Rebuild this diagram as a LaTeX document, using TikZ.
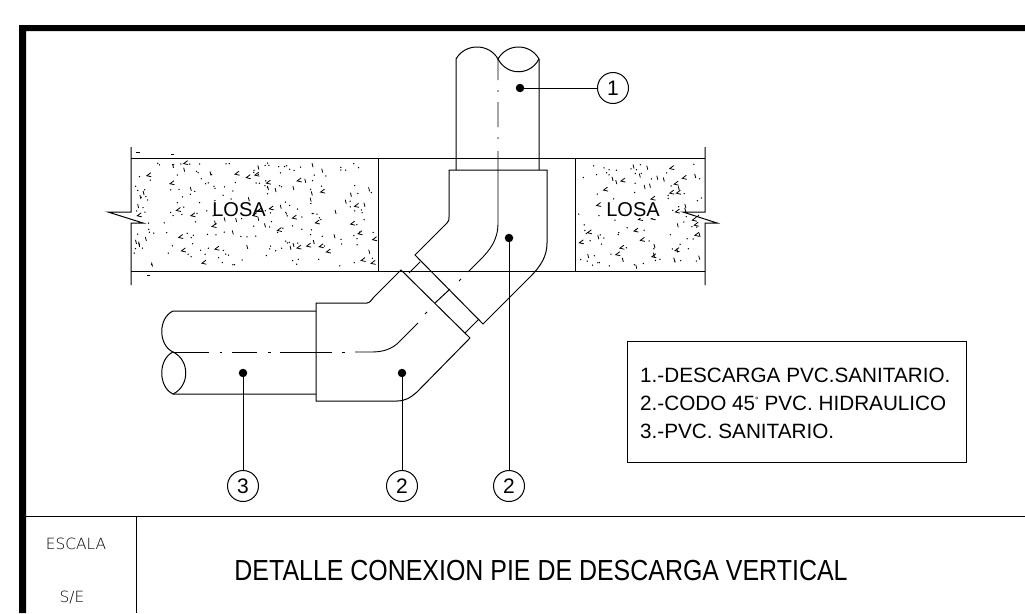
\documentclass[tikz,border=0pt]{standalone}
\usepackage{fontspec}
\setmainfont{Liberation Sans}
\newfontfamily\scalefont{DejaVu Sans ExtraLight}
\tikzset{
  cadline/.style={line width=1pt,line join=miter},
  axisline/.style={line width=0.9pt},
  callout/.style={circle,draw,line width=1pt,minimum size=31pt,inner sep=0pt,font=\fontsize{21}{23}\selectfont},
  leaddot/.style={circle,fill,minimum size=8.5pt,inner sep=0pt},
  loslabel/.style={font=\fontsize{20}{22}\selectfont},
  notelabel/.style={anchor=base west,inner sep=0pt,font=\fontsize{20.7}{23}\selectfont},
  scalelabel/.style={font=\scalefont\fontsize{15.4}{17}\selectfont},
  specks/.style={line width=0.8pt}
}
\newcommand{\speckfill}[3]{% x from, x to, seed
  \pgfmathsetseed{#3}
  \pgfmathsetmacro{\speckn}{int((#2-#1)*1.05)}
  \foreach \k in {1,...,\speckn} {
    \pgfmathsetmacro{\px}{#1+rnd*(#2-#1)}
    \pgfmathsetmacro{\py}{163+rnd*103}
    \pgfmathsetmacro{\pick}{rnd}
    \ifdim\pick pt<0.66pt
      \fill (\px,\py) circle (0.75);
    \else\ifdim\pick pt<0.84pt
      \draw[specks] (\px,\py) -- ++(1,4);
    \else
      \draw[specks] (\px,\py) ++(4,-3) -- ++(-4,3) -- ++(4.5,1);
    \fi\fi
  }
}
\begin{document}
\begin{tikzpicture}[x=1pt,y=-1pt]
  \useasboundingbox (0,0) rectangle (1025,613);
  % frame
  \fill (19,25) rectangle (1025,31) (19,25) rectangle (26,613);
  \draw[cadline] (26,516) -- (1025,516) (136,516) -- (136,613);
  \node[scalelabel] (scalehead) at (76,544) {ESCALA};
  \node[scalelabel] (scaleval) at (72,597) {S/E};
  \node[xscale=0.86,transform shape] (title) at (541,571) {\fontsize{29}{31}\selectfont DETALLE CONEXION PIE DE DESCARGA VERTICAL};
  % slab
  \draw[cadline] (131,158) -- (705,158) (131,271) -- (705,271)
    (378,158) -- (378,271) (575,158) -- (575,271);
  \draw[cadline] (131,147) -- (131,212) -- (108,212) -- (143,223) -- (131,223) -- (131,285);
  \draw[cadline] (705,147) -- (705,212) -- (683,212) -- (717,223) -- (705,223) -- (705,285);
  \speckfill{134}{375}{11}
  \speckfill{578}{702}{29}
  \draw[specks] (136,152) -- (140,152) (171,154) -- (174,154) (147,275) -- (150,275);
  \node[loslabel] (losaleft) at (239,210) {LOSA};
  \node[loslabel,fill=white,inner sep=1pt] (losaright) at (633,210) {LOSA};
  % upper pipe
  \draw[cadline] (456,170) -- (456,59) .. controls (465,43) and (489,43) .. (498,59)
    .. controls (507,43) and (530,43) .. (539,59) -- (539,170);
  \draw[cadline] (498,59) .. controls (507,76) and (530,76) .. (539,59);
  % upper elbow
  \draw[cadline] (449,170) -- (547,170) -- (547,243) .. controls (547,256) and (541,266) .. (530,277)
    -- (483,324) -- (415,255) -- (447,223) .. controls (449,221) and (449,220) .. (449,217) -- cycle;
  % nipple
  \draw[cadline] (409,273) -- (420,262) (465,333) -- (479,319) (435,303) -- (450,289);
  % lower elbow
  \draw[cadline] (316,303) -- (367,303) .. controls (370,303) and (372,299) .. (374,297)
    -- (401,270) -- (470,338) -- (417,392) .. controls (410,398) and (405,401) .. (397,401)
    -- (316,401) -- cycle;
  % lower pipe
  \draw[cadline] (316,311) -- (173,311) .. controls (158,318) and (158,345) .. (173,352)
    .. controls (158,359) and (158,387) .. (173,394) -- (316,394);
  \draw[cadline] (173,352) .. controls (190,360) and (190,386) .. (173,394);
  % axis
  \draw[axisline] (498,59) -- (498,80) (498,90) -- (498,92) (498,102) -- (498,127)
    (498,137) -- (498,139) (498,151) -- (498,223)
    .. controls (498,240) and (490,250) .. (480,260) -- (468,272);
  \draw[axisline] (461,279) -- (459,281) (418,323) -- (397,344)
    .. controls (388,351) and (380,352) .. (370,352) -- (355,352);
  \draw[axisline] (427,312) -- (425,314);
  \draw[axisline] (173,352) -- (209,352) (220,352) -- (222,352) (232,352) -- (257,352)
    (268,352) -- (271,352) (280,352) -- (332,352) (342,352) -- (345,352);
  % leaders
  \node[leaddot] (dota) at (520,88) {};
  \node[leaddot] (dotb) at (509,238) {};
  \node[leaddot] (dotc) at (402,373) {};
  \node[leaddot] (dotd) at (243,373) {};
  \node[callout] (numa) at (613,88) {1};
  \node[callout] (numb) at (509,486) {2};
  \node[callout] (numc) at (402,486) {2};
  \node[callout] (numd) at (243,486) {3};
  \draw[cadline] (dota) -- (numa);
  \draw[cadline] (dotb) -- (numb);
  \draw[cadline] (dotc) -- (numc);
  \draw[cadline] (dotd) -- (numd);
  % notes
  \draw[cadline] (627,341) rectangle (966,462);
  \node[notelabel] (notea) at (640,382) {1.-DESCARGA PVC.SANITARIO.};
  \node[notelabel] (noteb) at (640,410) {2.-CODO 45\raisebox{7pt}{\fontsize{9}{9}\selectfont\textdegree}\ PVC. HIDRAULICO};
  \node[notelabel] (notec) at (640,438) {3.-PVC. SANITARIO.};
\end{tikzpicture}
\end{document}
